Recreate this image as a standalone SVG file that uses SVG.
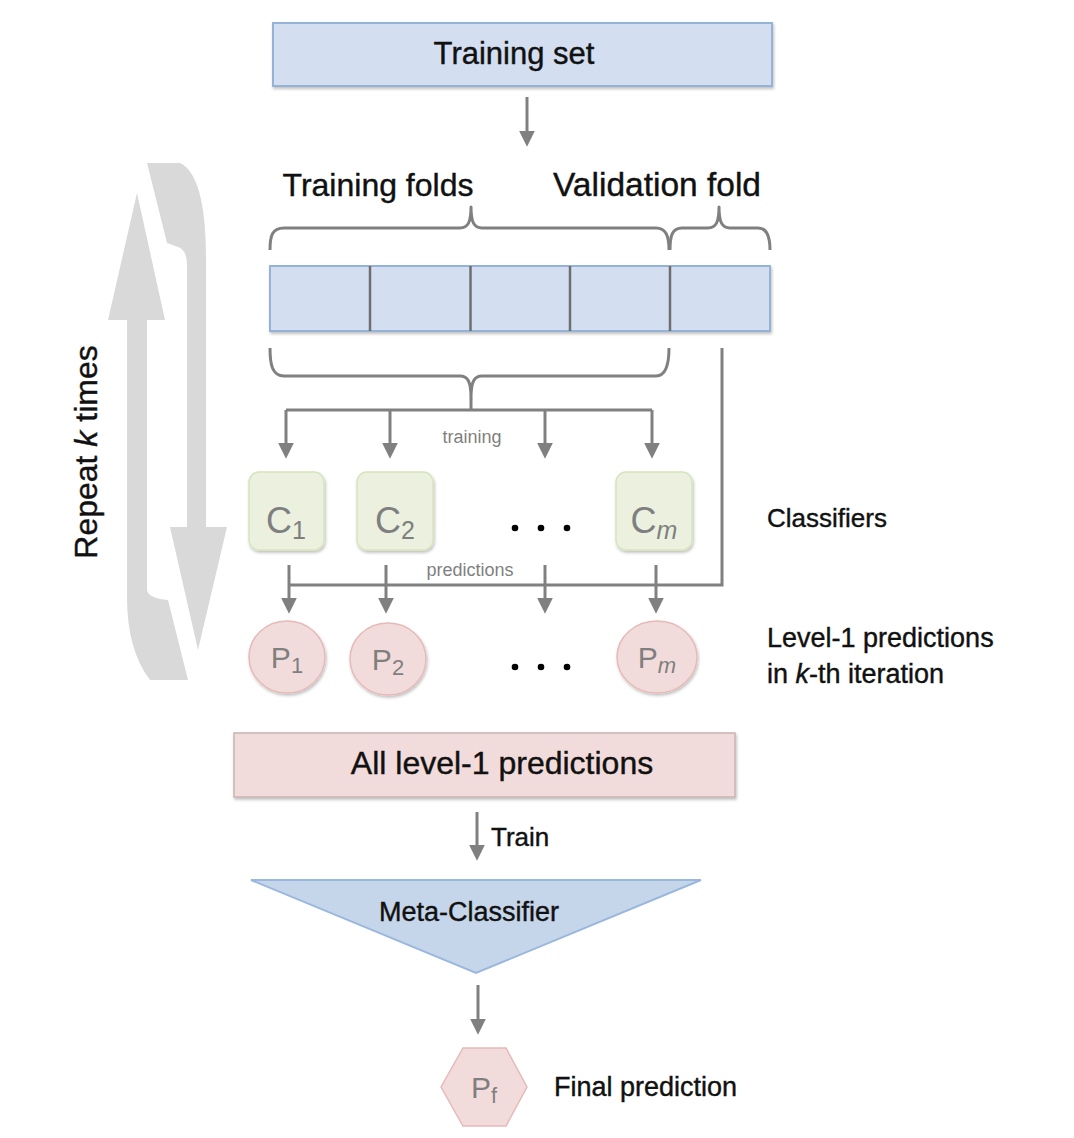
<svg xmlns="http://www.w3.org/2000/svg" width="1074" height="1138" viewBox="0 0 1074 1138">
<style>
text{font-family:"Liberation Sans",Arial,sans-serif;fill:#111}
.dk{stroke:#111;stroke-width:0.4}
.lbl{fill:#7f7f7f}
.conn{fill:none;stroke:#808080;stroke-width:3}
.arr{fill:none;stroke:#808080;stroke-width:3;marker-end:url(#ah)}
.brace{fill:none;stroke:#808080;stroke-width:3;stroke-linejoin:round}
.blue{fill:#d3dff1;stroke:#95b3d7;stroke-width:2}
.green{fill:#ebf1de;stroke:#d7e4bd;stroke-width:1.5}
.pink{fill:#f2dcdb;stroke:#e6b9b8;stroke-width:1.5}
.rep{fill:#d9d9d9}
</style>
<defs>
<filter id="sh" x="-10%" y="-10%" width="120%" height="130%">
<feDropShadow dx="1" dy="2" stdDeviation="1.5" flood-color="#000" flood-opacity="0.25"/>
</filter>
<marker id="ah" markerUnits="userSpaceOnUse" markerWidth="16" markerHeight="16" viewBox="0 0 15 15" refX="5" refY="7.5" orient="auto">
<path d="M0,0 L15,7.5 L0,15 Z" fill="#808080"/>
</marker>
</defs>

<g id="repeat">
<path class="rep" d="M137,193 L165,320 L147,320 L147,590 Q148,598 168,600 L188,680 L150,680 Q127,650 127,597 L127,320 L108,320 Z"/>
<path class="rep" d="M198,650 L170,527 L187,527 L187,265 Q187,250 178,247 L167,243 L147,163 L180,163 Q206,175 206,260 L206,527 L227,527 Z"/>
<text class="dk" transform="translate(97,452) rotate(-90)" text-anchor="middle" font-size="32">Repeat <tspan font-style="italic">k</tspan> times</text>
</g>

<g id="training-set">
<rect class="blue" x="273" y="23" width="499" height="63" filter="url(#sh)"/>
<text class="dk" x="514" y="64" text-anchor="middle" font-size="31">Training set</text>
</g>

<g id="fold-labels">
<text class="dk" x="378" y="196" text-anchor="middle" font-size="32">Training folds</text>
<text class="dk" x="657" y="196" text-anchor="middle" font-size="33.5">Validation fold</text>
</g>

<g id="braces">
<path class="brace" d="M270,250 C270,236 272,228 284,228 L460,228 C468,228 471,222 471,207 C471,222 474,228 482,228 L656,228 C666,228 669,236 669,250"/>
<path class="brace" d="M670,250 C670,236 672,228 682,228 L708,228 C716,228 719,222 719,207 C719,222 722,228 730,228 L758,228 C766,228 770,236 770,250"/>
<path class="brace" d="M270,348 C270,364 272,376 284,376 L460,376 C468,376 471,382 471,398 C471,382 474,376 482,376 L656,376 C666,376 669,364 669,348"/>
</g>

<g id="folds">
<rect class="blue" x="270" y="266" width="500" height="65" filter="url(#sh)"/>
<path d="M370,266V331M470.5,266V331M570,266V331M670,266V331" stroke="#6f6f6f" stroke-width="2.5" fill="none"/>
</g>

<g id="connectors">
<path class="conn" d="M471,398V410M286,410H652"/>
<path class="arr" d="M286,410V448"/>
<path class="arr" d="M390,410V448"/>
<path class="arr" d="M545,410V448"/>
<path class="arr" d="M652,410V448"/>
<path class="arr" d="M527,97V136"/>
<path class="conn" d="M722,348V585H289"/>
<path class="arr" d="M289,565V603"/>
<path class="arr" d="M386,565V603"/>
<path class="arr" d="M545,565V603"/>
<path class="arr" d="M656,565V603"/>
<path class="arr" d="M477,812V850"/>
<path class="arr" d="M478,985V1024"/>
<text class="lbl" x="472" y="443" text-anchor="middle" font-size="18">training</text>
<text class="lbl" x="470" y="576" text-anchor="middle" font-size="18">predictions</text>
<text class="dk" x="491" y="846" font-size="26">Train</text>
</g>

<g id="c1">
<rect class="green" x="249" y="472" width="75" height="78" rx="10" filter="url(#sh)"/>
<text class="lbl" x="286" y="533" text-anchor="middle" font-size="36">C<tspan font-size="25" dy="6">1</tspan></text>
</g>
<g id="c2">
<rect class="green" x="357" y="472" width="76" height="78" rx="10" filter="url(#sh)"/>
<text class="lbl" x="395" y="533" text-anchor="middle" font-size="36">C<tspan font-size="25" dy="6">2</tspan></text>
</g>
<g id="cm">
<rect class="green" x="616" y="472" width="76" height="78" rx="10" filter="url(#sh)"/>
<text class="lbl" x="654" y="533" text-anchor="middle" font-size="36">C<tspan font-size="25" dy="6" font-style="italic">m</tspan></text>
</g>
<g id="c-dots">
<circle cx="515" cy="528" r="3.3" fill="#000"/><circle cx="541" cy="528" r="3.3" fill="#000"/><circle cx="567" cy="528" r="3.3" fill="#000"/>
</g>
<g id="classifiers-label"><text class="dk" x="767" y="527" font-size="26">Classifiers</text></g>

<g id="p1">
<ellipse class="pink" cx="287" cy="657" rx="38" ry="36" filter="url(#sh)"/>
<text class="lbl" x="287" y="668" text-anchor="middle" font-size="30">P<tspan font-size="22" dy="5">1</tspan></text>
</g>
<g id="p2">
<ellipse class="pink" cx="388" cy="659" rx="38" ry="36" filter="url(#sh)"/>
<text class="lbl" x="388" y="670" text-anchor="middle" font-size="30">P<tspan font-size="22" dy="5">2</tspan></text>
</g>
<g id="pm">
<ellipse class="pink" cx="657" cy="657" rx="40" ry="36" filter="url(#sh)"/>
<text class="lbl" x="657" y="668" text-anchor="middle" font-size="30">P<tspan font-size="22" dy="5" font-style="italic">m</tspan></text>
</g>
<g id="p-dots">
<circle cx="515" cy="667" r="3.3" fill="#000"/><circle cx="541" cy="667" r="3.3" fill="#000"/><circle cx="567" cy="667" r="3.3" fill="#000"/>
</g>
<g id="level1-label">
<text class="dk" x="767" y="647" font-size="27">Level-1 predictions</text>
<text class="dk" x="767" y="683" font-size="27">in <tspan font-style="italic">k</tspan>-th iteration</text>
</g>

<g id="all-level1">
<rect x="234" y="733" width="501" height="64" fill="#f2dcdb" stroke="#c8b4b3" stroke-width="1.5" filter="url(#sh)"/>
<text class="dk" x="502" y="774" text-anchor="middle" font-size="32">All level-1 predictions</text>
</g>

<g id="meta-classifier">
<polygon points="251,880 701,880 476,973" fill="#c6d6ea" stroke="#9ab7dd" stroke-width="2"/>
<text class="dk" x="469" y="921" text-anchor="middle" font-size="27">Meta-Classifier</text>
</g>

<g id="final">
<polygon class="pink" points="441,1087 463,1048 506,1048 527,1087 506,1126 463,1126"/>
<text class="lbl" x="484" y="1098" text-anchor="middle" font-size="30">P<tspan font-size="22" dy="5">f</tspan></text>
<text class="dk" x="554" y="1096" font-size="27">Final prediction</text>
</g>
</svg>
